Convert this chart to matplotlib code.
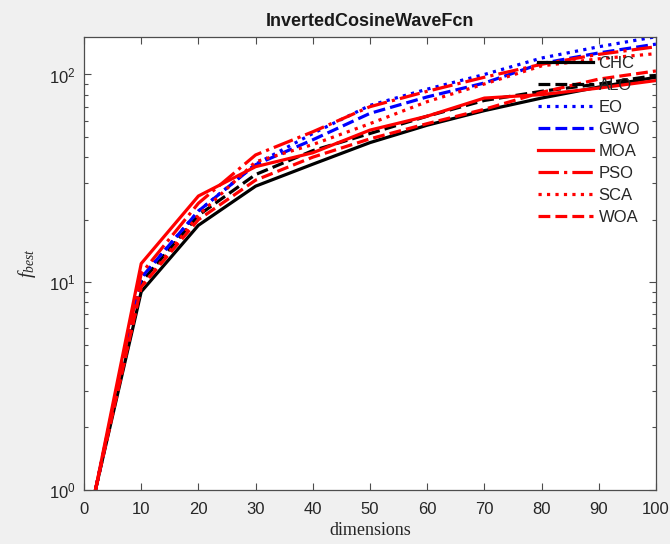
import matplotlib
matplotlib.use("Agg")
import matplotlib.pyplot as plt
from matplotlib.ticker import LogLocator, NullFormatter, MultipleLocator

# Best objective value reached by each optimizer vs. problem dimension
dimensions = [2, 10, 20, 30, 40, 50, 60, 70, 80, 90, 100]

chc = [1.0, 9.0, 18.8, 29.0, 37.0, 47.0, 57.0, 67.0, 77.0, 87.0, 97.0]
alo = [1.0, 10.0, 21.0, 33.0, 43.0, 52.0, 63.0, 75.0, 83.0, 90.0, 99.0]
eo = [1.0, 10.5, 22.0, 37.0, 52.0, 71.0, 85.0, 100.0, 120.0, 136.0, 152.0]
gwo = [1.0, 10.5, 22.0, 36.8, 48.5, 65.0, 78.0, 91.0, 113.0, 127.0, 140.0]
moa = [1.0, 12.3, 26.0, 36.0, 42.0, 54.0, 63.0, 77.0, 80.0, 86.0, 93.5]
pso = [1.0, 11.0, 24.0, 41.0, 53.0, 70.0, 83.0, 97.0, 112.0, 125.0, 136.0]
sca = [1.0, 9.5, 21.0, 38.0, 46.0, 58.0, 74.0, 90.0, 110.0, 119.0, 126.0]
woa = [1.0, 9.5, 20.0, 31.0, 40.0, 49.0, 58.0, 68.0, 82.0, 95.0, 104.0]

series = [
    ("CHC", chc, "k", "-"),
    ("ALO", alo, "k", "--"),
    ("EO", eo, "b", ":"),
    ("GWO", gwo, "b", "--"),
    ("MOA", moa, "r", "-"),
    ("PSO", pso, "r", "-."),
    ("SCA", sca, "r", ":"),
    ("WOA", woa, "r", "--"),
]

plt.rcParams["font.family"] = ["Liberation Sans", "DejaVu Sans"]
plt.rcParams["mathtext.fontset"] = "custom"
plt.rcParams["mathtext.rm"] = "Liberation Sans"
plt.rcParams["mathtext.it"] = "Liberation Serif:italic"

fig = plt.figure(figsize=(6.7, 5.44), dpi=100, facecolor="#f0f0f0")
ax = fig.add_axes([0.1254, 0.0993, 0.8536, 0.8332])
ax.set_facecolor("white")

for name, vals, color, ls in series:
    ax.plot(dimensions, vals, color=color, linestyle=ls, linewidth=2.3, label=name)

ax.set_yscale("log")
ax.set_xlim(0, 100)
ax.set_ylim(1, max(eo))
ax.xaxis.set_major_locator(MultipleLocator(10))
ax.yaxis.set_major_locator(LogLocator(base=10, numticks=10))
ax.yaxis.set_minor_locator(LogLocator(base=10, subs=range(2, 10), numticks=20))
ax.yaxis.set_minor_formatter(NullFormatter())

tick_color = "#262626"
ax.tick_params(which="both", direction="in", top=True, right=True,
               colors="#4d4d4d", labelcolor=tick_color, width=0.8)
ax.tick_params(which="major", length=5, labelsize=12)
ax.tick_params(which="minor", length=3)
ax.tick_params(axis="x", which="major", pad=9)
ax.tick_params(axis="y", which="major", pad=6)
for sp in ax.spines.values():
    sp.set_color("#4d4d4d")
    sp.set_linewidth(0.9)

ax.set_title("InvertedCosineWaveFcn", fontsize=13, fontweight="bold",
             color="#1a1a1a", pad=8)
ax.set_xlabel("dimensions", fontsize=13, family="Liberation Serif",
              color=tick_color, labelpad=3)
ax.set_ylabel(r"$f_{best}$", fontsize=14, color=tick_color, labelpad=8)

leg = ax.legend(loc="upper left", bbox_to_anchor=(0.783, 0.972), frameon=False,
                fontsize=12, handlelength=3.3, handletextpad=0.3,
                labelspacing=0.42, borderaxespad=0.0)
for t in leg.get_texts():
    t.set_color(tick_color)

fig.savefig("out.png", dpi=100, facecolor=fig.get_facecolor())
